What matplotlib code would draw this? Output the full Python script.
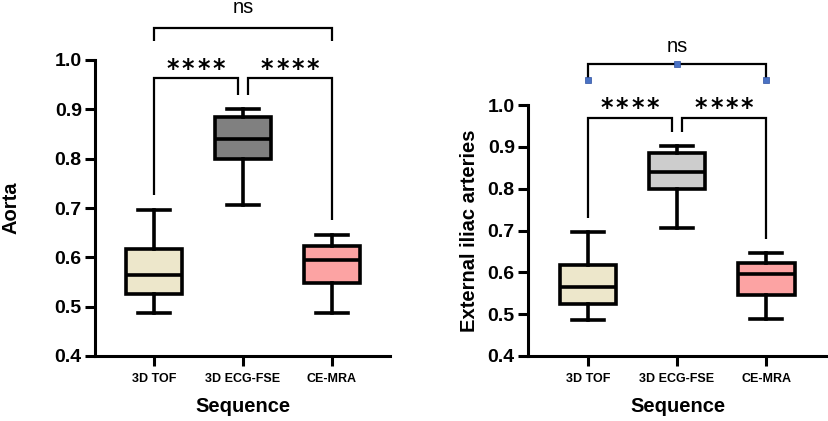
import matplotlib
matplotlib.use("Agg")
import matplotlib.pyplot as plt

plt.rcParams['font.family'] = ['Liberation Sans', 'DejaVu Sans']

# Data (same distribution in both panels)
sequences = ['3D TOF', '3D ECG-FSE', 'CE-MRA']
whisker_low = [0.487, 0.706, 0.488]
q1 = [0.525, 0.799, 0.547]
median = [0.564, 0.840, 0.595]
q3 = [0.617, 0.885, 0.622]
whisker_high = [0.696, 0.901, 0.646]
yticks = [0.4, 0.5, 0.6, 0.7, 0.8, 0.9, 1.0]

colors_aorta = ['#EDE7CB', '#808080', '#FCA3A3']
colors_iliac = ['#EDE7CB', '#CDCDCD', '#FCA3A3']

# bracket heights (data units) for each panel
brackets_aorta = dict(ns_top=1.065, ns_leg=1.0385, ns_text=1.0946,
                      in_top=0.963, left_leg=0.726, mid_leg=0.930,
                      right_leg=0.676, star=0.968)
brackets_iliac = dict(ns_top=1.098, ns_leg=1.060, ns_text=1.127,
                      in_top=0.968, left_leg=0.729, mid_leg=0.936,
                      right_leg=0.680, star=0.976)

fig = plt.figure(figsize=(8.29, 4.21), dpi=100)
ax1 = fig.add_axes([95 / 829, 1 - 356 / 421, 295 / 829, 296 / 421])
ax2 = fig.add_axes([528 / 829, 1 - 356 / 421, 299 / 829, 251 / 421])


def stars(ax, xc, y):
    # four separate asterisks, ~15 px apart
    for k in (-1.5, -0.5, 0.5, 1.5):
        ax.text(xc + k * 0.172, y, '*', ha='center', va='baseline',
                fontsize=17, fontweight='bold', family='DejaVu Sans',
                clip_on=False)


def draw_panel(ax, colors, ylabel, br, xlim, ylab_x, xlab_y, handles=False):
    stats = []
    for i in range(len(sequences)):
        stats.append(dict(whislo=whisker_low[i], q1=q1[i], med=median[i],
                          q3=q3[i], whishi=whisker_high[i], fliers=[]))
    bp = ax.bxp(stats, positions=range(3), widths=0.64, patch_artist=True,
                showfliers=False,
                boxprops=dict(linewidth=2.6, edgecolor='black'),
                medianprops=dict(linewidth=2.6, color='black'),
                whiskerprops=dict(linewidth=2.6, color='black'),
                capprops=dict(linewidth=2.6, color='black'),
                capwidths=0.36)
    for patch, c in zip(bp['boxes'], colors):
        patch.set_facecolor(c)

    ax.set_xlim(*xlim)
    ax.set_ylim(0.4, 1.0)
    ax.set_yticks(yticks)
    ax.set_yticklabels(['%.1f' % v for v in yticks], fontsize=14,
                       fontweight='bold')
    ax.set_xticks(range(3))
    ax.set_xticklabels(sequences, fontsize=9, fontweight='bold')
    ax.tick_params(axis='both', length=7.5, width=2.2, direction='out')
    ax.tick_params(axis='y', pad=2)
    ax.tick_params(axis='x', pad=5)
    for s in ['top', 'right']:
        ax.spines[s].set_visible(False)
    for s in ['left', 'bottom']:
        ax.spines[s].set_linewidth(2.2)
    ax.set_ylabel(ylabel, fontsize=14.5, fontweight='bold', va='center')
    ax.yaxis.set_label_coords(ylab_x, 0.5)
    ax.set_xlabel('Sequence', fontsize=14.5, fontweight='bold', va='center')
    ax.xaxis.set_label_coords(0.5, xlab_y)

    kw = dict(color='black', linewidth=1.6, clip_on=False,
              solid_capstyle='butt', solid_joinstyle='miter')
    # ns bracket between 3D TOF and CE-MRA
    ax.plot([0, 0, 2, 2], [br['ns_leg'], br['ns_top'], br['ns_top'], br['ns_leg']], **kw)
    ax.text(1, br['ns_text'], 'ns', ha='center', va='baseline', fontsize=14.5,
            clip_on=False)
    # 3D TOF vs 3D ECG-FSE
    ax.plot([0, 0, 0.945, 0.945], [br['left_leg'], br['in_top'], br['in_top'], br['mid_leg']], **kw)
    stars(ax, 0.47, br['star'])
    # 3D ECG-FSE vs CE-MRA
    ax.plot([1.055, 1.055, 2, 2], [br['mid_leg'], br['in_top'], br['in_top'], br['right_leg']], **kw)
    stars(ax, 1.53, br['star'])
    if handles:
        ax.plot([0, 1, 2], [br['ns_leg'], br['ns_top'], br['ns_leg']], 's',
                color='#4A72C4', markersize=4, markeredgecolor='#2E50A0',
                markeredgewidth=0.5, clip_on=False, linestyle='none')


draw_panel(ax1, colors_aorta, 'Aorta', brackets_aorta, (-0.663, 2.652),
           -0.286, -0.169)
draw_panel(ax2, colors_iliac, 'External iliac arteries', brackets_iliac,
           (-0.674, 2.685), -0.194, -0.203, handles=True)

fig.savefig('out.png', dpi=100)
